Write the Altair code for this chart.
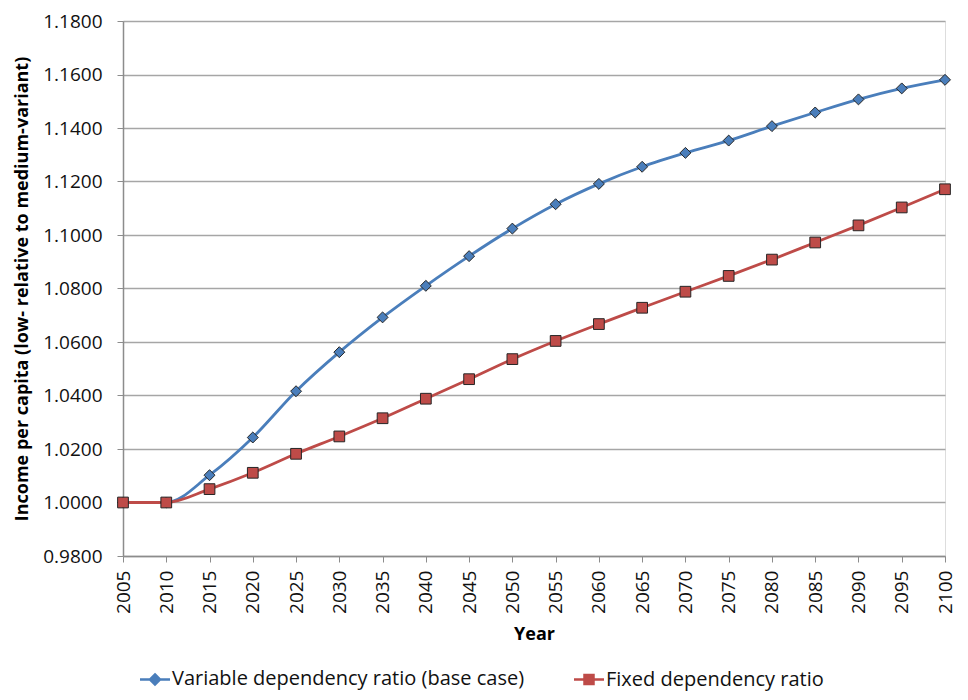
import altair as alt
import pandas as pd

years = [2005, 2010, 2015, 2020, 2025, 2030, 2035, 2040, 2045, 2050,
         2055, 2060, 2065, 2070, 2075, 2080, 2085, 2090, 2095, 2100]
variable_ratio = [1.0000, 1.0000, 1.0102, 1.0243, 1.0416, 1.0562, 1.0692, 1.0810, 1.0921, 1.1024,
                  1.1115, 1.1191, 1.1255, 1.1307, 1.1353, 1.1407, 1.1458, 1.1507, 1.1548, 1.1580]
fixed_ratio = [1.0000, 1.0000, 1.0050, 1.0111, 1.0182, 1.0247, 1.0315, 1.0388, 1.0461, 1.0536,
               1.0604, 1.0667, 1.0728, 1.0788, 1.0847, 1.0908, 1.0972, 1.1036, 1.1103, 1.1171]
series_names = ["Variable dependency ratio (base case)", "Fixed dependency ratio"]
series_colors = ["#4A7EBB", "#BE4B48"]
y_ticks = [0.98, 1.00, 1.02, 1.04, 1.06, 1.08, 1.10, 1.12, 1.14, 1.16, 1.18]

rows = []
for y, v in zip(years, variable_ratio):
    rows.append({"Year": y, "Value": v, "Series": series_names[0]})
for y, v in zip(years, fixed_ratio):
    rows.append({"Year": y, "Value": v, "Series": series_names[1]})
df = pd.DataFrame(rows)

FONT = "Open Sans"

x_enc = alt.X("Year:Q",
              scale=alt.Scale(domain=[2005, 2100], nice=False, zero=False),
              axis=alt.Axis(values=years, format="d", labelAngle=270, labelAlign="right",
                            labelBaseline="middle", labelFontSize=19, labelPadding=8,
                            title="Year", titleFontSize=18, titleFontWeight="bold",
                            titlePadding=12, grid=False, tickSize=6, tickColor="#8C8C8C",
                            domainColor="#8C8C8C", domainWidth=1.5, labelColor="#111",
                            labelFlush=False, labelOverlap=False))
y_enc = alt.Y("Value:Q",
              scale=alt.Scale(domain=[0.98, 1.18], nice=False, zero=False),
              axis=alt.Axis(values=y_ticks, format=".4f", labelFontSize=19, labelPadding=15,
                            title="Income per capita (low- relative to medium-variant)",
                            titleFontSize=18, titleFontWeight="bold", titlePadding=11,
                            grid=True, gridColor="#A6A6A6", gridWidth=1.5,
                            tickSize=6, tickColor="#8C8C8C", domainColor="#8C8C8C",
                            domainWidth=1.5, labelColor="#111", labelOverlap=False))

base = alt.Chart(df)

line_var = base.transform_filter(alt.datum.Series == series_names[0]).mark_line(
    interpolate="monotone", strokeWidth=2.8, color=series_colors[0]
).encode(x=x_enc, y=y_enc)

line_fix = base.transform_filter(alt.datum.Series == series_names[1]).mark_line(
    interpolate="monotone", strokeWidth=2.8, color=series_colors[1]
).encode(x="Year:Q", y="Value:Q")

pts_var = base.transform_filter(alt.datum.Series == series_names[0]).mark_point(
    shape="diamond", filled=True, size=120, fill=series_colors[0],
    stroke="#262626", strokeWidth=1, opacity=1
).encode(x="Year:Q", y="Value:Q")

pts_fix = base.transform_filter(alt.datum.Series == series_names[1]).mark_point(
    shape="square", filled=True, size=115, fill=series_colors[1],
    stroke="#262626", strokeWidth=1, opacity=1
).encode(x="Year:Q", y="Value:Q")

# legend symbols: a short line with the marker in the middle
diamond_path = "M-2,0L-0.67,0M0.67,0L2,0M0,-0.67L0.67,0L0,0.67L-0.67,0Z"
square_path = "M-2,0L-0.6,0M0.6,0L2,0M-0.6,-0.6L0.6,-0.6L0.6,0.6L-0.6,0.6Z"


def make_legend():
    return alt.Legend(title=None, orient="none", legendX=22, legendY=648,
                      direction="horizontal", labelFont=FONT, labelFontSize=20,
                      labelColor="#111", symbolSize=225, symbolStrokeWidth=2.5,
                      symbolOpacity=1, columnPadding=44, labelOffset=7, labelLimit=600)


legend_layer = base.mark_point(filled=True, opacity=0).encode(
    x="Year:Q", y="Value:Q",
    shape=alt.Shape("Series:N",
                    scale=alt.Scale(domain=series_names, range=[diamond_path, square_path]),
                    legend=make_legend()),
    fill=alt.Fill("Series:N", scale=alt.Scale(domain=series_names, range=series_colors),
                  legend=make_legend()),
    stroke=alt.Stroke("Series:N", scale=alt.Scale(domain=series_names, range=series_colors),
                      legend=make_legend()),
)

chart = alt.layer(line_var, line_fix, pts_var, pts_fix, legend_layer).properties(
    width=822, height=535,
    padding={"left": 5, "top": 4, "right": 2, "bottom": 3},
).configure_view(
    fill="#F2F2F2", stroke=None,
).configure(
    background="white", font=FONT,
).configure_axis(
    labelFont=FONT, titleFont=FONT,
).configure_legend(
    labelFont=FONT, titleFont=FONT,
)

chart.save("out.html", embed_options={"renderer": "svg", "actions": False})
